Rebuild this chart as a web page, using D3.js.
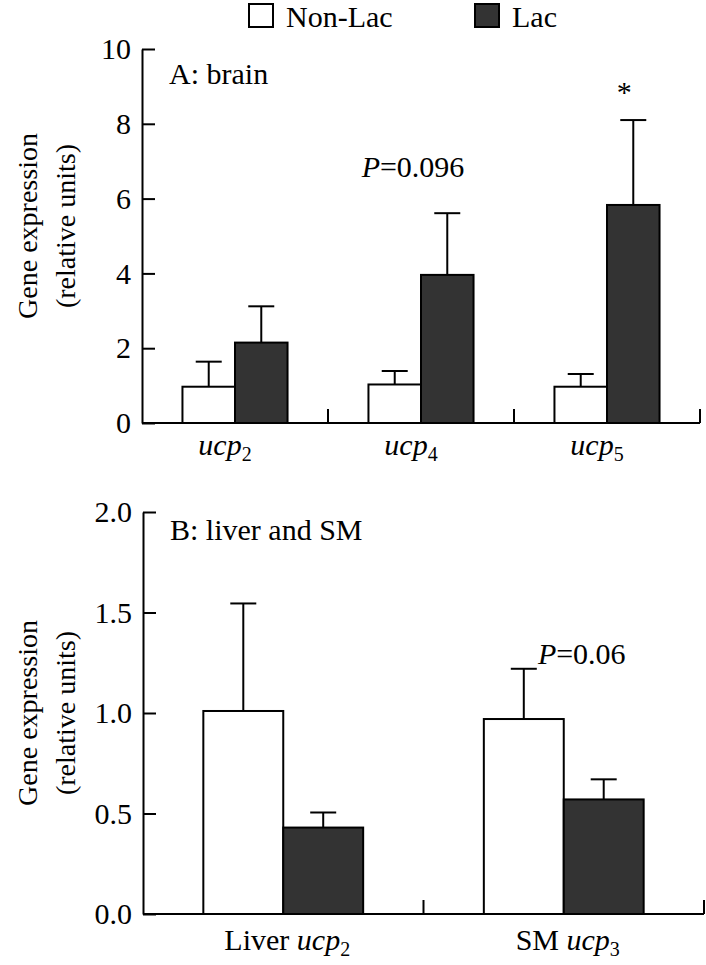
<!DOCTYPE html>
<html>
<head>
<meta charset="utf-8">
<script src="https://cdn.jsdelivr.net/npm/d3@7"></script>
<style>
  body { margin: 0; background: #fff; }
  svg { display: block; font-family: "Liberation Serif", "Times New Roman", serif; }
  svg text { font-family: "Liberation Serif", "Times New Roman", serif !important; }
</style>
</head>
<body>
<div id="chart"></div>
<script>
const series = ["Non-Lac", "Lac"];
const colors = { "Non-Lac": "#ffffff", "Lac": "#333333" };

// panel A: brain
const brainGenes = ["ucp2", "ucp4", "ucp5"];
const brainMean = { "Non-Lac": [0.97, 1.03, 0.97], "Lac": [2.15, 3.96, 5.83] };
const brainSE = { "Non-Lac": [0.67, 0.36, 0.34], "Lac": [0.97, 1.65, 2.27] };
const brainTicks = [0, 2, 4, 6, 8, 10];

// panel B: liver and skeletal muscle
const tissueGenes = ["Liver ucp2", "SM ucp3"];
const tissueMean = { "Non-Lac": [1.01, 0.97], "Lac": [0.43, 0.57] };
const tissueSE = { "Non-Lac": [0.535, 0.25], "Lac": [0.075, 0.10] };
const tissueTicks = [0, 0.5, 1.0, 1.5, 2.0];

const svg = d3.select("#chart").append("svg")
    .attr("width", 706)
    .attr("height", 965);

// legend
const legend = svg.append("g").attr("transform", "translate(248,3)");
const legendX = [0, 226];
series.forEach((s, i) => {
    const g = legend.append("g").attr("transform", `translate(${legendX[i]},0)`);
    g.append("rect")
        .attr("x", 1).attr("y", 1)
        .attr("width", 24).attr("height", 23)
        .attr("fill", colors[s])
        .attr("stroke", "#000")
        .attr("stroke-width", 2);
    g.append("text")
        .attr("x", 38).attr("y", 24)
        .style("font-size", "30px")
        .text(s);
});

function geneLabel(text, name) {
    // "Liver ucp2" -> plain prefix, italic gene, subscript number
    const m = name.match(/^(.*?)(ucp)(\d)$/);
    if (m[1]) text.append("tspan").text(m[1]);
    text.append("tspan").style("font-style", "italic").text(m[2]);
    text.append("tspan").attr("dy", 6).style("font-size", "20px").text(m[3]);
}

function drawPanel(opt) {
    const g = svg.append("g").attr("transform", `translate(${opt.left},${opt.top})`);
    const w = opt.right - opt.left;
    const h = opt.bottom - opt.top;

    const x = d3.scaleBand().domain(opt.genes).range([0, w]).padding(0);
    const x1 = d3.scaleBand().domain(series).range([0, x.bandwidth()])
        .paddingInner(0).paddingOuter(opt.barPad);
    const y = d3.scaleLinear().domain([0, opt.max]).range([h, 0]);

    // y axis, ticks pointing inward
    const yAxis = g.append("g")
        .call(d3.axisLeft(y).tickValues(opt.ticks).tickFormat(opt.fmt)
            .tickSizeInner(-13).tickSizeOuter(0).tickPadding(11));
    yAxis.selectAll("path, line").attr("stroke", "#000").attr("stroke-width", 2);
    yAxis.selectAll("text").attr("fill", "#000").style("font-size", "30px");

    // x axis baseline with separator ticks
    g.append("line")
        .attr("x1", 0).attr("x2", w)
        .attr("y1", h).attr("y2", h)
        .attr("stroke", "#000").attr("stroke-width", 2);
    g.selectAll(".sep")
        .data(opt.genes)
        .enter().append("line")
        .attr("x1", d => x(d) + x.bandwidth())
        .attr("x2", d => x(d) + x.bandwidth())
        .attr("y1", h).attr("y2", h - 14)
        .attr("stroke", "#000").attr("stroke-width", 2);

    // bars and error bars
    series.forEach(s => {
        const rows = opt.genes.map((gene, i) => ({ gene, v: opt.mean[s][i], e: opt.se[s][i] }));
        const cx = d => x(d.gene) + x1(s) + x1.bandwidth() / 2;

        g.selectAll(`.err-${s}`)
            .data(rows)
            .enter().append("line")
            .attr("x1", cx).attr("x2", cx)
            .attr("y1", d => y(d.v)).attr("y2", d => y(d.v + d.e))
            .attr("stroke", "#000").attr("stroke-width", 2);

        g.selectAll(`.cap-${s}`)
            .data(rows)
            .enter().append("line")
            .attr("x1", d => cx(d) - 13).attr("x2", d => cx(d) + 13)
            .attr("y1", d => y(d.v + d.e)).attr("y2", d => y(d.v + d.e))
            .attr("stroke", "#000").attr("stroke-width", 2);

        g.selectAll(`.bar-${s}`)
            .data(rows)
            .enter().append("rect")
            .attr("x", d => x(d.gene) + x1(s))
            .attr("y", d => y(d.v))
            .attr("width", x1.bandwidth())
            .attr("height", d => h - y(d.v))
            .attr("fill", colors[s])
            .attr("stroke", "#000")
            .attr("stroke-width", 2);
    });

    // category labels
    opt.genes.forEach(gene => {
        const t = g.append("text")
            .attr("x", x(gene) + x.bandwidth() / 2 + opt.labelDx)
            .attr("y", h + opt.labelDy)
            .attr("text-anchor", "middle")
            .style("font-size", "30px");
        geneLabel(t, gene);
    });

    // panel title
    g.append("text")
        .attr("x", 27).attr("y", opt.titleDy)
        .style("font-size", "30px")
        .text(opt.title);

    // y axis title
    const yt = g.append("text")
        .attr("transform", `translate(${-opt.left + 37},${h / 2 + opt.yTitleDy}) rotate(-90)`)
        .attr("text-anchor", "middle")
        .style("font-size", "28px");
    yt.append("tspan").attr("x", 0).attr("dy", 0).text("Gene expression");
    yt.append("tspan").attr("x", 0).attr("dy", 38).text("(relative units)");

    return { g, x, x1, y };
}

const A = drawPanel({
    left: 142, right: 700, top: 49, bottom: 423,
    genes: brainGenes, mean: brainMean, se: brainSE,
    max: 10, ticks: brainTicks, fmt: d3.format("d"),
    barPad: 0.77, labelDx: -10, labelDy: 32,
    title: "A: brain", titleDy: 35, yTitleDy: -10
});

const B = drawPanel({
    left: 143, right: 704, top: 512, bottom: 914,
    genes: tissueGenes, mean: tissueMean, se: tissueSE,
    max: 2, ticks: tissueTicks, fmt: d3.format(".1f"),
    barPad: 0.755, labelDx: 4, labelDy: 36,
    title: "B: liver and SM", titleDy: 28, yTitleDy: 0
});

// significance annotations
function pLabel(panel, x, y, value) {
    const t = panel.g.append("text")
        .attr("x", x).attr("y", y)
        .attr("text-anchor", "middle")
        .style("font-size", "30px");
    t.append("tspan").style("font-style", "italic").text("P");
    t.append("tspan").text("=" + value);
}

pLabel(A, A.x("ucp4") + A.x.bandwidth() / 2 - 8, A.y(5.61) - 36, "0.096");

A.g.append("text")
    .attr("x", A.x("ucp5") + A.x1("Lac") + A.x1.bandwidth() / 2 - 9)
    .attr("y", A.y(8.10) - 18)
    .attr("text-anchor", "middle")
    .style("font-size", "30px")
    .text("*");

pLabel(B, B.x("SM ucp3") + B.x1("Lac") + 18, B.y(0.97 + 0.25) - 5, "0.06");
</script>
</body>
</html>
